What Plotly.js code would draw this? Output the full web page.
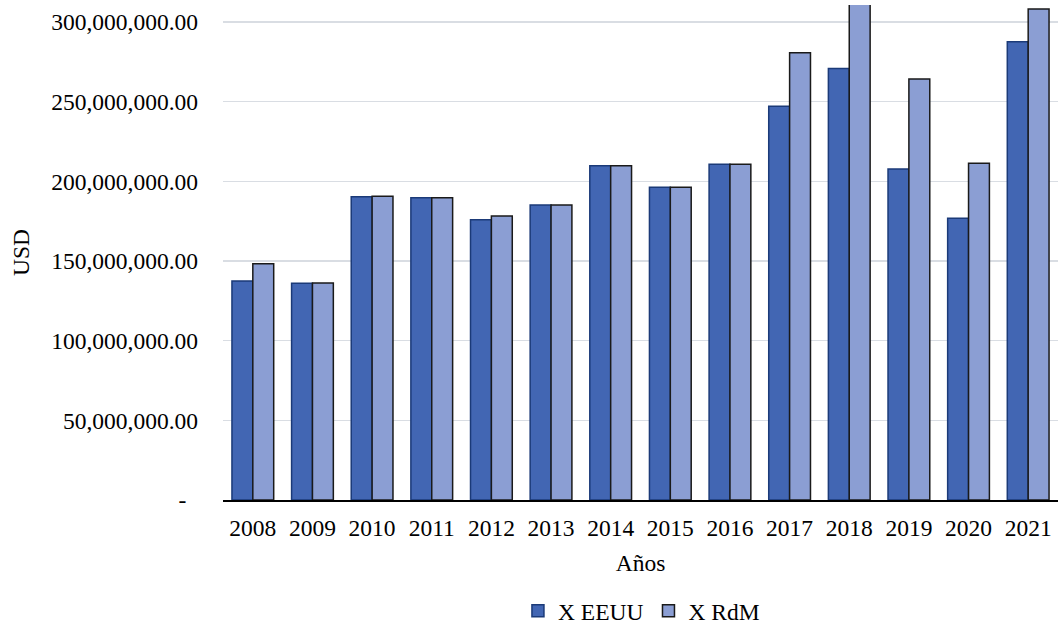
<!DOCTYPE html>
<html>
<head>
<meta charset="utf-8">
<script src="https://cdn.plot.ly/plotly-3.0.1.min.js"></script>
<style>html,body{margin:0;padding:0;background:#fff;}#chart{width:1062px;height:627px;}</style>
</head>
<body>
<div id="chart"></div>
<script>
const years = ["2008","2009","2010","2011","2012","2013","2014","2015","2016","2017","2018","2019","2020","2021"];
const xEEUU = [137.4e6,136.0e6,190.4e6,189.7e6,175.9e6,185.1e6,209.8e6,196.3e6,210.7e6,247.1e6,270.8e6,207.7e6,176.8e6,287.6e6];
const xRdM  = [148.3e6,136.2e6,190.6e6,189.7e6,178.2e6,185.1e6,209.8e6,196.3e6,210.7e6,280.7e6,318.0e6,264.2e6,211.3e6,308.2e6];
const tickVals = [0,50e6,100e6,150e6,200e6,250e6,300e6];
const tickText = ["-\u00a0\u00a0","50,000,000.00","100,000,000.00","150,000,000.00","200,000,000.00","250,000,000.00","300,000,000.00"];

const font = "Liberation Serif, Times New Roman, serif";
const fs = 23.5;
const traces = [
  {type:"bar", name:"X EEUU", x:years, y:xEEUU,
   marker:{color:"#4266b3", line:{color:"#1b3a78", width:1.5}}},
  {type:"bar", name:"X RdM", x:years, y:xRdM,
   marker:{color:"#8b9ed3", line:{color:"#1a1a1a", width:1.5}}}
];
const layout = {
  width:1062, height:627,
  margin:{l:223, r:4, t:5, b:127},
  paper_bgcolor:"#fff", plot_bgcolor:"#fff",
  font:{family:font, size:fs, color:"#000"},
  barmode:"group", bargap:0.3, bargroupgap:0,
  showlegend:true,
  legend:{orientation:"h", x:0.604, xanchor:"center", xref:"container",
          y:1-611/627, yref:"container", yanchor:"middle",
          font:{family:font, size:fs, color:"#000"}, itemwidth:30, traceorder:"normal"},
  xaxis:{type:"category", showgrid:false, showline:true, linecolor:"#000", linewidth:2,
         ticks:"", ticklabelstandoff:6, tickfont:{family:font, size:fs},
         title:{text:"Años", font:{family:font, size:fs}, standoff:14}},
  yaxis:{range:[0,310.7e6], tickvals:tickVals, ticktext:tickText, showgrid:true,
         gridcolor:"#d9dde3", gridwidth:1.5, zeroline:false, showline:false,
         ticks:"", ticklabelstandoff:24, tickfont:{family:font, size:fs},
         title:{text:"USD", font:{family:font, size:fs}, standoff:14}}
};
Plotly.newPlot("chart", traces, layout, {staticPlot:true, displayModeBar:false});
</script>
</body>
</html>
